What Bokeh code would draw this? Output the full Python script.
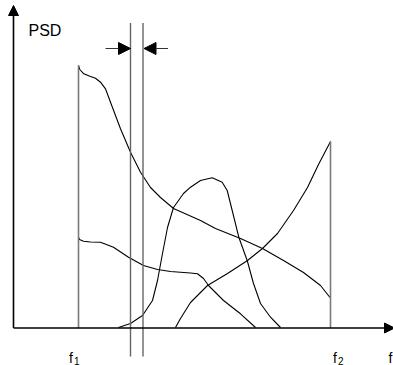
from bokeh.plotting import figure
from bokeh.models import Range1d, Arrow, NormalHead, Label
from bokeh.embed import file_html
from bokeh.resources import INLINE

# --- schematic data (pixel-like units, y grows downward) ---
curve1_x = [78, 79.3, 83.3, 90, 95, 100, 105, 110, 120, 130, 140, 150, 160, 173, 200, 215, 240, 262, 283, 303, 320, 329.5]
curve1_y = [65, 69, 73.3, 76, 77.7, 81.7, 88.3, 101.7, 128.3, 151.7, 171.7, 187, 197, 208, 220, 228, 238, 248, 260, 272, 285, 297]

curve2_x = [78, 79, 83, 90, 100, 113, 128, 143, 157, 170, 190, 197, 203, 208, 223, 240, 255]
curve2_y = [236.7, 239, 240.7, 241.5, 241.7, 246.7, 256.7, 265, 269, 271, 272.5, 273.3, 278, 285, 300, 313.3, 327]

curve3_x = [118, 130, 142, 152, 157, 162, 167, 173, 183, 190, 200, 211.7, 221.7, 226.7, 231.7, 238.3, 246.7, 253, 260, 270, 280]
curve3_y = [327, 323, 315, 300, 280, 253, 227, 207, 193, 186.7, 180, 177.3, 181.7, 190, 210, 236.7, 260, 283, 303, 316.7, 327]

curve4_x = [175, 180, 185, 190, 200, 207, 227, 247, 262, 277, 293, 307, 318, 330]
curve4_y = [327, 318, 310, 302, 292, 285, 273, 260, 248, 233, 210, 187, 164, 141]

# band limits f1, f2 and the narrow window
band_x = [78, 330]
band_top = [65, 141]
window_x = [130, 142.5]
window_top = 22.5
window_bottom = 356

axis_origin = (13, 327.5)
axis_y_tip = 5
axis_x_tip = 394

p = figure(width=393, height=365, output_backend="svg", toolbar_location=None,
           x_range=Range1d(0, 393), y_range=Range1d(365, 0),
           min_border=0, outline_line_color=None)
p.axis.visible = False
p.grid.visible = False
p.background_fill_color = "white"

# curves
for cx, cy in [(curve1_x, curve1_y), (curve2_x, curve2_y), (curve3_x, curve3_y), (curve4_x, curve4_y)]:
    p.line(cx, cy, line_color="black", line_width=1.1)

# f1 / f2 verticals
p.segment(x0=band_x, y0=[axis_origin[1]] * 2, x1=band_x, y1=band_top,
          line_color="#7a7a7a", line_width=1.6)

# narrow window verticals
p.segment(x0=window_x, y0=[window_bottom] * 2, x1=window_x, y1=[window_top] * 2,
          line_color="#666666", line_width=1.4)

# axes with arrowheads
p.add_layout(Arrow(x_start=axis_origin[0], y_start=axis_origin[1], x_end=axis_origin[0], y_end=axis_y_tip,
                   line_color="black", line_width=1.6,
                   end=NormalHead(size=10, fill_color="black", line_color="black", line_width=1)))
p.add_layout(Arrow(x_start=axis_origin[0], y_start=axis_origin[1], x_end=axis_x_tip, y_end=axis_origin[1],
                   line_color="black", line_width=1.6,
                   end=NormalHead(size=10, fill_color="black", line_color="black", line_width=1)))

# window width arrows
p.add_layout(Arrow(x_start=105, y_start=48, x_end=window_x[0], y_end=48,
                   line_color="#333333", line_width=1.2,
                   end=NormalHead(size=12, fill_color="black", line_color="black", line_width=1)))
p.add_layout(Arrow(x_start=167.5, y_start=48, x_end=window_x[1] + 1, y_end=48,
                   line_color="#333333", line_width=1.2,
                   end=NormalHead(size=12, fill_color="black", line_color="black", line_width=1)))

# labels
font = "Liberation Sans"
p.add_layout(Label(x=28, y=30, text="PSD", text_font=font, text_font_size="16px",
                   text_color="black", text_baseline="alphabetic"))
p.add_layout(Label(x=68.5, y=357, text="f", text_font=font, text_font_size="14px",
                   text_color="black", text_baseline="alphabetic"))
p.add_layout(Label(x=73.5, y=360, text="1", text_font=font, text_font_size="10px",
                   text_color="black", text_baseline="alphabetic"))
p.add_layout(Label(x=332.5, y=357, text="f", text_font=font, text_font_size="14px",
                   text_color="black", text_baseline="alphabetic"))
p.add_layout(Label(x=337.5, y=360, text="2", text_font=font, text_font_size="10px",
                   text_color="black", text_baseline="alphabetic"))
p.add_layout(Label(x=388, y=357, text="f", text_font=font, text_font_size="14px",
                   text_color="black", text_baseline="alphabetic"))

open("out.html", "w").write(file_html(p, INLINE))
